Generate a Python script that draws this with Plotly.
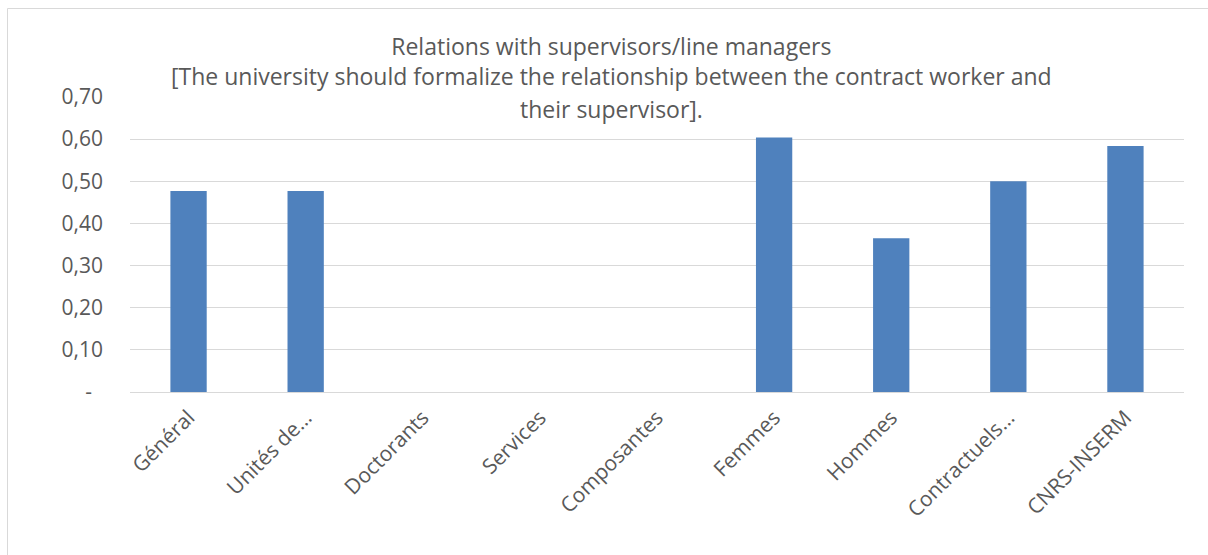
import plotly.graph_objects as go

categories = ["Général", "Unités de…", "Doctorants", "Services", "Composantes",
              "Femmes", "Hommes", "Contractuels…", "CNRS-INSERM"]
values = [0.477, 0.477, 0, 0, 0, 0.604, 0.365, 0.500, 0.584]
y_tickvals = [0, 0.1, 0.2, 0.3, 0.4, 0.5, 0.6, 0.7]
y_ticktext = ["-\u00a0\u00a0", "0,10", "0,20", "0,30", "0,40", "0,50", "0,60", "0,70"]
title_lines = ["Relations with supervisors/line managers",
               "[The university should formalize the relationship between the contract worker and",
               "their supervisor]."]

W, H = 1208, 555
L, R, T, B = 130, 24, 97, 163
pw, ph = W - L - R, H - T - B

def px_x(x):
    return (x - L) / pw

def px_y(y):
    return (H - B - y) / ph

FONT = "Open Sans"
TXT = "#595959"

fig = go.Figure(go.Bar(
    x=categories, y=values, marker=dict(color="#4F81BD", line=dict(width=0)),
    hoverinfo="x+y",
))

annotations = [
    dict(text=title_lines[0] + "<br>" + title_lines[1], x=px_x(611), y=px_y(60.5),
         xref="paper", yref="paper", xanchor="center", yanchor="middle",
         showarrow=False, font=dict(family=FONT, size=23, color=TXT)),
    dict(text=title_lines[2], x=px_x(611), y=px_y(108.5),
         xref="paper", yref="paper", xanchor="center", yanchor="middle",
         showarrow=False, font=dict(family=FONT, size=23, color=TXT)),
]

fig.update_layout(
    width=W, height=H,
    margin=dict(l=L, r=R, t=T, b=B, pad=0),
    paper_bgcolor="white", plot_bgcolor="white",
    bargap=0.69,
    showlegend=False,
    annotations=annotations,
    font=dict(family=FONT, size=21, color=TXT),
    shapes=[dict(type="rect", xref="paper", yref="paper",
                 x0=px_x(7.5), x1=px_x(1215), y0=px_y(8.5), y1=px_y(565),
                 line=dict(color="#D9D9D9", width=1), fillcolor="rgba(0,0,0,0)",
                 layer="below")],
    xaxis=dict(
        tickangle=-45, showgrid=False, zeroline=False,
        showline=True, linecolor="#D9D9D9", linewidth=1,
        tickfont=dict(family=FONT, size=21, color=TXT),
        ticks="", ticklabelstandoff=4,
    ),
    yaxis=dict(
        range=[0, 0.7], tickvals=y_tickvals, ticktext=y_ticktext,
        showgrid=True, gridcolor="#D9D9D9", gridwidth=1,
        zeroline=False, showline=False, ticks="",
        tickfont=dict(family=FONT, size=21, color=TXT),
        ticklabelstandoff=26,
    ),
)

fig.write_html("out.html", config={"displayModeBar": False},
               post_script="document.body.style.margin='0';document.body.style.overflow='hidden';")
